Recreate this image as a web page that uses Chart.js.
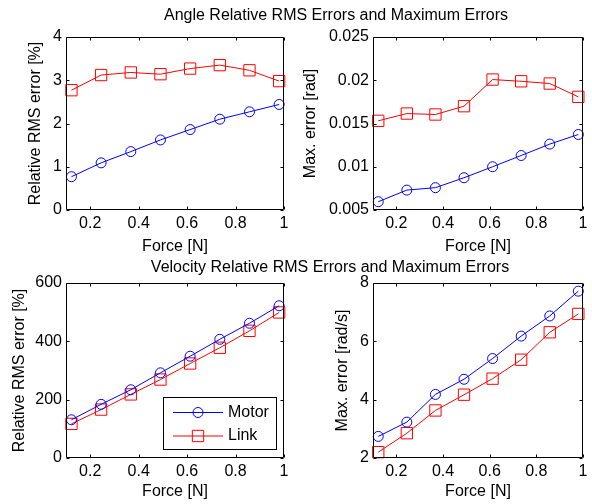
<!DOCTYPE html>
<html>
<head>
<meta charset="utf-8">
<script src="https://cdn.jsdelivr.net/npm/chart.js@4/dist/chart.umd.min.js"></script>
<style>
  html, body { margin: 0; padding: 0; background: #fff; }
  #fig { position: relative; width: 592px; height: 504px; overflow: hidden; font-family: "Liberation Sans", Arial, sans-serif; }
  #fig canvas { position: absolute; }
  .suptitle { position: absolute; transform: translateX(-50%); white-space: nowrap; font-size: 16px; line-height: 20px; color: #000; z-index: 2; }
</style>
</head>
<body>
<div id="fig">
  <canvas id="angleRms" width="296" height="258" style="left:0;top:0"></canvas>
  <canvas id="angleMax" width="296" height="258" style="left:296px;top:0"></canvas>
  <canvas id="velRms" width="296" height="246" style="left:0;top:258px"></canvas>
  <canvas id="velMax" width="296" height="246" style="left:296px;top:258px"></canvas>
  <div class="suptitle" style="left:336px;top:5px">Angle Relative RMS Errors and Maximum Errors</div>
  <div class="suptitle" style="left:330px;top:257px">Velocity Relative RMS Errors and Maximum Errors</div>
</div>
<script>
// applied force for each test load
const force = [0.1225, 0.245, 0.3675, 0.49, 0.6125, 0.735, 0.8575, 0.98];
const forceTicks = [0.2, 0.4, 0.6, 0.8, 1];

// angle errors
const angleRmsMotor = [0.77, 1.09, 1.35, 1.62, 1.86, 2.10, 2.27, 2.44];
const angleRmsLink = [2.77, 3.12, 3.18, 3.14, 3.27, 3.35, 3.23, 2.98];
const angleMaxMotor = [0.00596, 0.0073, 0.00758, 0.00873, 0.0100, 0.0113, 0.01262, 0.01373];
const angleMaxLink = [0.01531, 0.01615, 0.01604, 0.0170, 0.02008, 0.01988, 0.01962, 0.01808];

// velocity errors
const velRmsMotor = [131, 184, 234, 292, 349, 407, 462, 522];
const velRmsLink = [117, 166, 218, 269, 324, 378, 436, 499];
const velMaxMotor = [2.74, 3.23, 4.18, 4.70, 5.41, 6.18, 6.87, 7.72];
const velMaxLink = [2.20, 2.85, 3.63, 4.17, 4.72, 5.37, 6.31, 6.94];

// y tick values
const angleRmsTicks = [0, 1, 2, 3, 4];
const angleMaxTicks = [0.005, 0.01, 0.015, 0.02, 0.025];
const velRmsTicks = [0, 200, 400, 600];
const velMaxTicks = [2, 4, 6, 8];

const FONT = { family: '"Liberation Sans", Arial, sans-serif', size: 16 };
const BLUE = '#0000ff';
const RED = '#ff0000';

// box around the plot area with inward ticks on all four sides
const boxTicks = {
  id: 'boxTicks',
  afterDatasetsDraw(chart) {
    const { ctx, chartArea: a, scales: { x, y } } = chart;
    const L = Math.round(a.left) + 0.5, R = Math.round(a.right) - 0.5;
    const T = Math.round(a.top) + 0.5, B = Math.round(a.bottom) - 0.5;
    const len = 3;
    ctx.save();
    ctx.strokeStyle = '#000';
    ctx.lineWidth = 1;
    ctx.beginPath();
    ctx.rect(L, T, R - L, B - T);
    x.ticks.forEach(t => {
      const px = Math.round(x.getPixelForValue(t.value)) + 0.5;
      ctx.moveTo(px, B); ctx.lineTo(px, B - len);
      ctx.moveTo(px, T); ctx.lineTo(px, T + len);
    });
    y.ticks.forEach(t => {
      const py = Math.round(y.getPixelForValue(t.value)) + 0.5;
      ctx.moveTo(L, py); ctx.lineTo(L + len, py);
      ctx.moveTo(R, py); ctx.lineTo(R - len, py);
    });
    ctx.stroke();
    ctx.restore();
  }
};

function marker(ctx, style, r, x, y) {
  ctx.beginPath();
  if (style === 'rect') {
    const s = Math.SQRT1_2 * r;
    ctx.rect(x - s, y - s, 2 * s, 2 * s);
  } else {
    ctx.arc(x, y, r, 0, Math.PI * 2);
  }
  ctx.stroke();
}

// legend box drawn inside the plot area
const lineLegend = {
  id: 'lineLegend',
  afterDraw(chart, args, opts) {
    if (!opts.display) return;
    const { ctx } = chart;
    const { left, top, width, height } = opts;
    ctx.save();
    ctx.fillStyle = '#fff';
    ctx.fillRect(left, top, width, height);
    ctx.strokeStyle = '#000';
    ctx.lineWidth = 1;
    ctx.strokeRect(left + 0.5, top + 0.5, width - 1, height - 1);
    ctx.font = FONT.size + 'px ' + FONT.family;
    ctx.textBaseline = 'middle';
    chart.data.datasets.forEach((ds, i) => {
      const y = top + 15.5 + i * 23.5;
      ctx.strokeStyle = ds.borderColor;
      ctx.beginPath();
      ctx.moveTo(left + 10, y); ctx.lineTo(left + 60, y);
      ctx.stroke();
      marker(ctx, ds.pointStyle, ds.pointRadius, left + 35, y);
      ctx.fillStyle = '#000';
      ctx.fillText(ds.label, left + 65, y);
    });
    ctx.restore();
  }
};

function series(label, values, color, style, radius) {
  return {
    label: label,
    data: force.map((f, i) => ({ x: f, y: values[i] })),
    borderColor: color,
    borderWidth: 1,
    pointStyle: style,
    pointRadius: radius,
    pointBorderWidth: 1,
    pointBackgroundColor: 'rgba(0,0,0,0)',
    pointBorderColor: color,
    tension: 0,
    clip: false
  };
}

function panel(id, cfg) {
  const canvas = document.getElementById(id);
  const W = canvas.width, H = canvas.height;
  const box = cfg.box;
  new Chart(canvas, {
    type: 'line',
    data: {
      datasets: [
        series('Motor', cfg.motor, BLUE, 'circle', 5),
        series('Link', cfg.link, RED, 'rect', 8)
      ]
    },
    options: {
      responsive: false,
      animation: false,
      events: [],
      layout: { padding: { left: 0, top: box.top, right: W - box.right, bottom: 0 } },
      scales: {
        x: {
          type: 'linear',
          min: 0.1,
          max: 1,
          afterBuildTicks: s => { s.ticks = forceTicks.map(v => ({ value: v })); },
          afterFit: s => { s.height = H - box.bottom; },
          grid: { display: false, drawTicks: false },
          border: { display: false },
          ticks: { font: FONT, color: '#000', padding: 4, maxRotation: 0, autoSkip: false, callback: v => String(v) },
          title: { display: true, text: 'Force [N]', font: FONT, color: '#000', padding: { top: 0, bottom: cfg.xTitlePad } }
        },
        y: {
          type: 'linear',
          min: cfg.yTicks[0],
          max: cfg.yTicks[cfg.yTicks.length - 1],
          afterBuildTicks: s => { s.ticks = cfg.yTicks.map(v => ({ value: v })); },
          afterFit: s => { s.width = box.left; },
          grid: { display: false, drawTicks: false },
          border: { display: false },
          ticks: { font: FONT, color: '#000', padding: 4, autoSkip: false, callback: v => String(v) },
          title: { display: true, text: cfg.yTitle, font: FONT, color: '#000', padding: { top: cfg.yTitlePad, bottom: 0 } }
        }
      },
      plugins: {
        legend: { display: false },
        tooltip: { enabled: false },
        lineLegend: cfg.legend || { display: false }
      }
    },
    plugins: [boxTicks, lineLegend]
  });
}

panel('angleRms', {
  box: { left: 66, right: 284, top: 37, bottom: 210 },
  motor: angleRmsMotor, link: angleRmsLink, yTicks: angleRmsTicks,
  yTitle: 'Relative RMS error [%]', yTitlePad: 26, xTitlePad: 2
});

panel('angleMax', {
  box: { left: 77, right: 294, top: 37, bottom: 210 },
  motor: angleMaxMotor, link: angleMaxLink, yTicks: angleMaxTicks,
  yTitle: 'Max. error [rad]', yTitlePad: 5, xTitlePad: 2
});

panel('velRms', {
  box: { left: 66, right: 284, top: 25, bottom: 200 },
  motor: velRmsMotor, link: velRmsLink, yTicks: velRmsTicks,
  yTitle: 'Relative RMS error [%]', yTitlePad: 10, xTitlePad: 3,
  legend: { display: true, left: 163, top: 139, width: 114, height: 53 }
});

panel('velMax', {
  box: { left: 77, right: 294, top: 25, bottom: 200 },
  motor: velMaxMotor, link: velMaxLink, yTicks: velMaxTicks,
  yTitle: 'Max. error [rad/s]', yTitlePad: 37, xTitlePad: 3
});
</script>
</body>
</html>
